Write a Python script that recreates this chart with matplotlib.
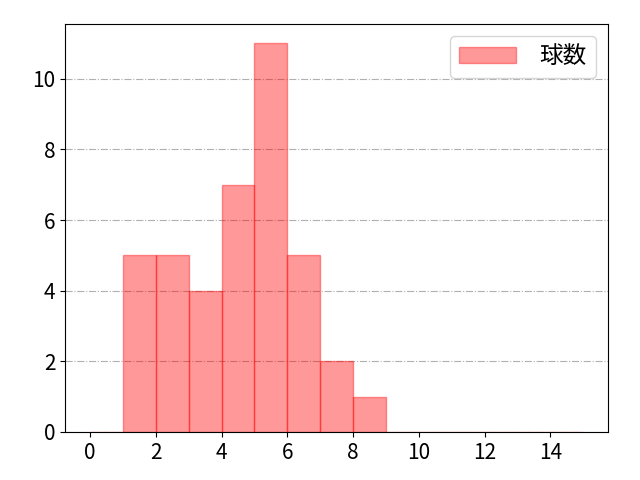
import matplotlib
matplotlib.use("Agg")
import matplotlib.pyplot as plt
import numpy as np

plt.rcParams['font.family'] = ['Noto Sans CJK JP', 'DejaVu Sans']

# histogram bins (0..15) and counts per bin
bin_edges = list(range(0, 16))
counts = [0, 5, 5, 4, 7, 11, 5, 2, 1, 0, 0, 0, 0, 0, 0]
label = "球数"

fig, ax = plt.subplots(figsize=(6.4, 4.8), dpi=100)
ax.hist(bin_edges[:-1], bins=bin_edges, weights=counts,
        color="red", alpha=0.4, edgecolor="red", linewidth=1, label=label)
ax.grid(axis="y", linestyle="-.", color="#b0b0b0", linewidth=0.8)
ax.set_axisbelow(True)
ax.set_xticks(range(0, 15, 2))
ax.tick_params(labelsize=15)
ax.legend(loc="upper right", fontsize=17, handlelength=2.4, handletextpad=1.0)
fig.subplots_adjust(left=0.102, right=0.95, top=0.95, bottom=0.1)
fig.savefig("out.png")
